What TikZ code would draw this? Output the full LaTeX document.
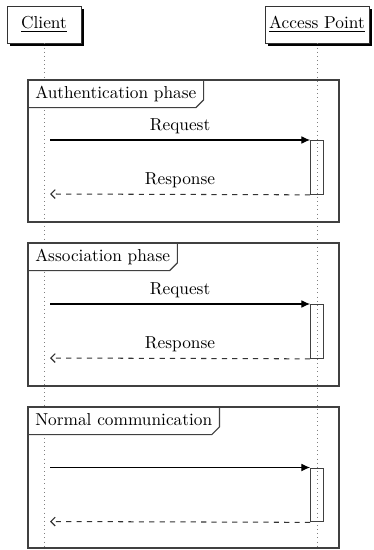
\documentclass[tikz,border=0pt]{standalone}
\usepackage{tikz}
\usetikzlibrary{positioning}
\usetikzlibrary{arrows.meta,shadows}

\begin{document}
\begin{tikzpicture}[x=0.578pt,y=-0.578pt,
  inst/.style={draw=black!80,fill=white,minimum height=21.4pt,inner sep=0pt,
    drop shadow={shadow xshift=1.6pt,shadow yshift=-1.6pt,fill=black,opacity=1}},
  life/.style={gray,dotted,thin},
  frm/.style={draw=black!75,line width=0.65pt},
  tab/.style={anchor=north west,fill=white,inner xsep=4pt,inner ysep=3.4pt,text height=6.9pt,text depth=1.9pt},
  act/.style={draw=black!75,line width=0.5pt,minimum width=7.5pt,minimum height=31.2pt,inner sep=0pt,anchor=north},
  call/.style={-{Latex[length=5pt,width=4.5pt]},line width=0.6pt},
  ret/.style={dashed,-{Straight Barb[length=2.5pt,width=5pt,line width=0.7pt]},line width=0.6pt,draw=black!80},
  msg/.style={midway,above,text=black}]
 \useasboundingbox (0,0) rectangle (373,550);

 % instances and lifelines
 \node[inst,minimum width=42.8pt] (client) at (44,24.5) {\underline{Client}};
 \node[inst,minimum width=60.1pt] (ap) at (317,24.5) {\underline{Access Point}};
 \coordinate (clientend) at (44,550);
 \coordinate (apend) at (317,550);
 \draw[life] (client.south) -- (clientend);
 \draw[life] (ap.south) -- (apend);

 % authentication
 \node[tab] (auth) at (28,80) {Authentication phase};
 \draw[frm] (28,80) rectangle (339,222);
 \draw[frm] (auth.north east) -- ([yshift=4.5pt]auth.south east) -- ([xshift=-4.5pt]auth.south east) -- (auth.south west);
 \node[act] (act1) at (317,140) {};
 \coordinate (req1) at (50,140);
 \coordinate (res1) at (50,194);
 \draw[call] (req1) -- (act1.north west) node[msg] (reqlab1) {Request};
 \draw[ret] (act1.south west) -- (res1) node[msg] (reslab1) {Response};

 % association
 \node[tab] (assoc) at (28,243) {Association phase};
 \draw[frm] (28,243) rectangle (339,386);
 \draw[frm] (assoc.north east) -- ([yshift=4.5pt]assoc.south east) -- ([xshift=-4.5pt]assoc.south east) -- (assoc.south west);
 \node[act] (act2) at (317,304) {};
 \coordinate (req2) at (50,304);
 \coordinate (res2) at (50,358);
 \draw[call] (req2) -- (act2.north west) node[msg] (reqlab2) {Request};
 \draw[ret] (act2.south west) -- (res2) node[msg] (reslab2) {Response};

 % normal communication
 \node[tab] (normal) at (28,407) {Normal communication};
 \draw[frm] (28,407) rectangle (339,548);
 \draw[frm] (normal.north east) -- ([yshift=4.5pt]normal.south east) -- ([xshift=-4.5pt]normal.south east) -- (normal.south west);
 \node[act] (act3) at (317,467.5) {};
 \coordinate (req3) at (50,467.5);
 \coordinate (res3) at (50,521.5);
 \draw[call] (req3) -- (act3.north west);
 \draw[ret] (act3.south west) -- (res3);
\end{tikzpicture}
\end{document}
